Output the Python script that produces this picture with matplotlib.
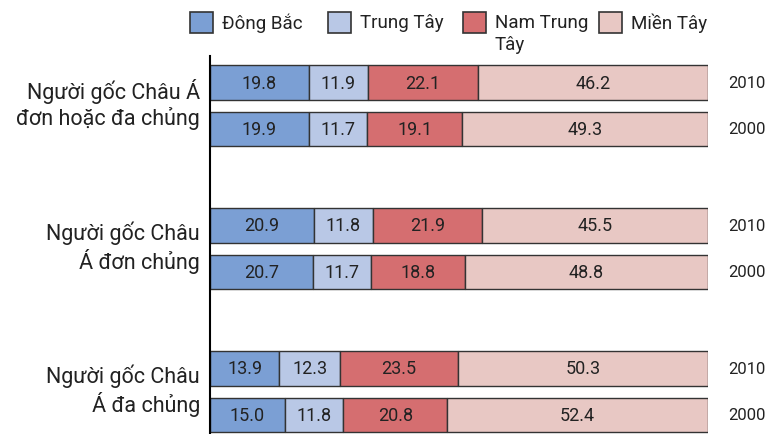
import matplotlib.pyplot as plt
from matplotlib.patches import Rectangle
import numpy as np

plt.rcParams['font.family'] = ['Roboto', 'DejaVu Sans']

regions = ['Đông Bắc', 'Trung Tây', 'Nam Trung\nTây', 'Miền Tây']
colors = ['#7b9fd4', '#b9c8e6', '#d56e70', '#e8c8c4']
groups = ['Người gốc Châu Á\nđơn hoặc đa chủng', 'Người gốc Châu\nÁ đơn chủng', 'Người gốc Châu\nÁ đa chủng']
years = ['2010', '2000']

# rows: group0-2010, group0-2000, group1-2010, ...
dong_bac = [19.8, 19.9, 20.9, 20.7, 13.9, 15.0]
trung_tay = [11.9, 11.7, 11.8, 11.7, 12.3, 11.8]
nam_trung_tay = [22.1, 19.1, 21.9, 18.8, 23.5, 20.8]
mien_tay = [46.2, 49.3, 45.5, 48.8, 50.3, 52.4]
series = [dong_bac, trung_tay, nam_trung_tay, mien_tay]

fig = plt.figure(figsize=(7.68, 4.35), dpi=100)
ax = fig.add_axes([210 / 768, 0, 498 / 768, 1 - 57 / 435])

gap = 3.075
ypos = []
for g in range(len(groups)):
    ypos += [g * gap, g * gap + 1]
ypos = np.array(ypos)

left = np.zeros(len(ypos))
for vals, c in zip(series, colors):
    vals = np.array(vals)
    ax.barh(ypos, vals, left=left, height=0.75, color=c, edgecolor='#333333', linewidth=1.0)
    for y, l, v in zip(ypos, left, vals):
        ax.text(l + v / 2, y, '%.1f' % v, ha='center', va='center', fontsize=13, color='#222222')
    left += vals

for i, y in enumerate(ypos):
    ax.text(1.04, y, years[i % 2], transform=ax.get_yaxis_transform(), ha='left', va='center',
            fontsize=12, color='#222222')

for g, name in enumerate(groups):
    ax.text(-0.02, g * gap + 0.45, name, transform=ax.get_yaxis_transform(), ha='right', va='center',
            fontsize=15.5, color='#222222', linespacing=1.2)

ax.set_xlim(0, 100)
ax.set_ylim(ypos[-1] + 0.41, -0.57)
for s in ['top', 'right', 'bottom']:
    ax.spines[s].set_visible(False)
ax.spines['left'].set_linewidth(1.5)
ax.set_xticks([])
ax.set_yticks([])

# legend drawn by hand
leg_x = [190, 328, 463, 599]
for x, lab, c in zip(leg_x, regions, colors):
    fig.patches.append(Rectangle((x / 768, 1 - 34 / 435), 23 / 768, 21 / 435, transform=fig.transFigure,
                                 facecolor=c, edgecolor='#333333', linewidth=1.2))
    lines = lab.split('\n')
    for k, line in enumerate(lines):
        fig.text((x + 32) / 768, 1 - (23.5 + 21 * k) / 435, line, ha='left', va='center',
                 fontsize=13.5, color='#222222')

fig.savefig('out.png', dpi=100)
